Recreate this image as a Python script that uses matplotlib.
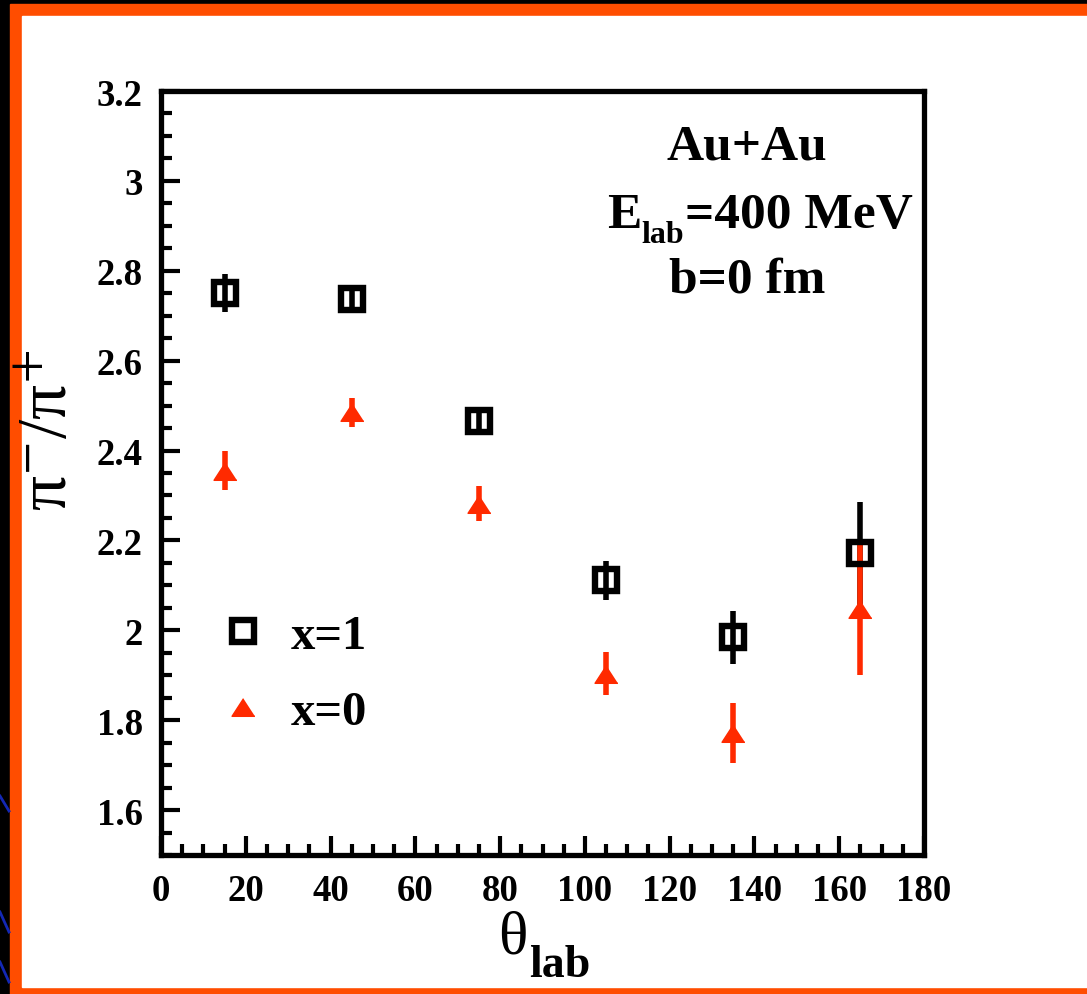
import matplotlib
matplotlib.use("Agg")
import matplotlib.pyplot as plt
from matplotlib.lines import Line2D
from matplotlib.patches import Rectangle
from matplotlib.ticker import MultipleLocator, FuncFormatter

# pi-/pi+ ratio versus lab angle, Au+Au at 400 MeV, b = 0 fm
theta = [15, 45, 75, 105, 135, 165]

ratio_x1 = [2.75, 2.738, 2.465, 2.111, 1.984, 2.171]
err_x1 = [0.042, 0.02, 0.02, 0.043, 0.059, 0.115]

ratio_x0 = [2.355, 2.485, 2.282, 1.903, 1.772, 2.047]
err_x0 = [0.043, 0.032, 0.038, 0.048, 0.067, 0.146]

labels = ["x=1", "x=0"]

RED = "#ff2a00"
ORANGE = "#ff4d00"
SERIF = "Liberation Serif"

fig = plt.figure(figsize=(10.87, 9.95), dpi=100, facecolor="black")

# slide-style frame: orange band and white panel behind the axes
W, H = 1087, 995
fig.patches.append(Rectangle((10 / W, 0), 1 - 10 / W, 1 - 5 / H,
                             transform=fig.transFigure, color=ORANGE, zorder=-3))
fig.patches.append(Rectangle((22 / W, 7 / H), 1 - 22 / W, 1 - 24 / H,
                             transform=fig.transFigure, color="white", zorder=-2))
for y0, y1 in [(797, 812), (913, 933), (963, 983)]:
    fig.lines.append(Line2D([0, 9 / W], [1 - y0 / H, 1 - y1 / H],
                            transform=fig.transFigure, color="#1428b4",
                            lw=2, zorder=-1))

ax = fig.add_axes([161 / W, 139 / H, 763 / W, 764 / H])
ax.set_facecolor("white")

tri = [(0, 0.77), (-1, -0.77), (1, -0.77)]

eb1 = ax.errorbar(theta, ratio_x1, yerr=err_x1, fmt="s", color="black",
                  ms=16, mew=4.6, mfc="none", elinewidth=4, capsize=0)
eb0 = ax.errorbar(theta, ratio_x0, yerr=err_x0, fmt="none", ecolor=RED,
                  elinewidth=4, capsize=0)
pts0, = ax.plot(theta, ratio_x0, ls="none", marker=tri, ms=16.5,
                color=RED, mec=RED)

ax.set_xlim(0, 180)
ax.set_ylim(1.5, 3.2)
ax.xaxis.set_major_locator(MultipleLocator(20))
ax.xaxis.set_minor_locator(MultipleLocator(5))
ax.yaxis.set_minor_locator(MultipleLocator(0.05))
ax.set_yticks([1.6 + 0.2 * i for i in range(9)])
ax.yaxis.set_major_formatter(FuncFormatter(lambda v, p: "%g" % round(v, 2)))

for s in ax.spines.values():
    s.set_linewidth(3.8)
ax.tick_params(which="both", direction="in", top=False, right=False, width=3)
ax.tick_params(which="major", length=14)
ax.tick_params(which="minor", length=8)
ax.tick_params(axis="y", pad=13)
ax.tick_params(axis="x", pad=13)
for lab in ax.get_xticklabels() + ax.get_yticklabels():
    lab.set_fontfamily(SERIF)
    lab.set_fontweight("bold")
    lab.set_fontsize(26.5)

# axis titles, the subscripts set as their own pieces of text
ax.text(0.48, -0.127, "θ", transform=ax.transAxes, ha="right",
        va="baseline", fontfamily=SERIF, fontsize=44)
ax.text(0.482, -0.158, "lab", transform=ax.transAxes, ha="left",
        va="baseline", fontfamily=SERIF, fontweight="bold", fontsize=33)
ax.text(-0.145, 0.557, "π$^{-}$/π$^{+}$", transform=ax.transAxes,
        rotation=90, ha="center", va="center", fontfamily=SERIF,
        fontsize=50, math_fontfamily="stix")

txt = dict(transform=ax.transAxes, va="baseline", fontfamily=SERIF,
           fontweight="bold", fontsize=37)
ax.text(0.768, 0.911, "Au+Au", ha="center", **txt)
ax.text(0.5845, 0.822, "E", ha="left", **txt)
ax.text(0.6291, 0.8023, "lab", ha="left", **dict(txt, fontsize=23))
ax.text(0.6867, 0.822, "=400 MeV", ha="left", **txt)
ax.text(0.768, 0.737, "b=0 fm", ha="center", **txt)

ax.legend([eb1[0], pts0], labels, loc="upper left",
          bbox_to_anchor=(0.075, 0.316), frameon=False, borderpad=0,
          borderaxespad=0, handlelength=1.0, handletextpad=0.5,
          labelspacing=0.66, prop={"family": SERIF, "weight": "bold", "size": 35})

fig.savefig("out.png", dpi=100, facecolor=fig.get_facecolor())
